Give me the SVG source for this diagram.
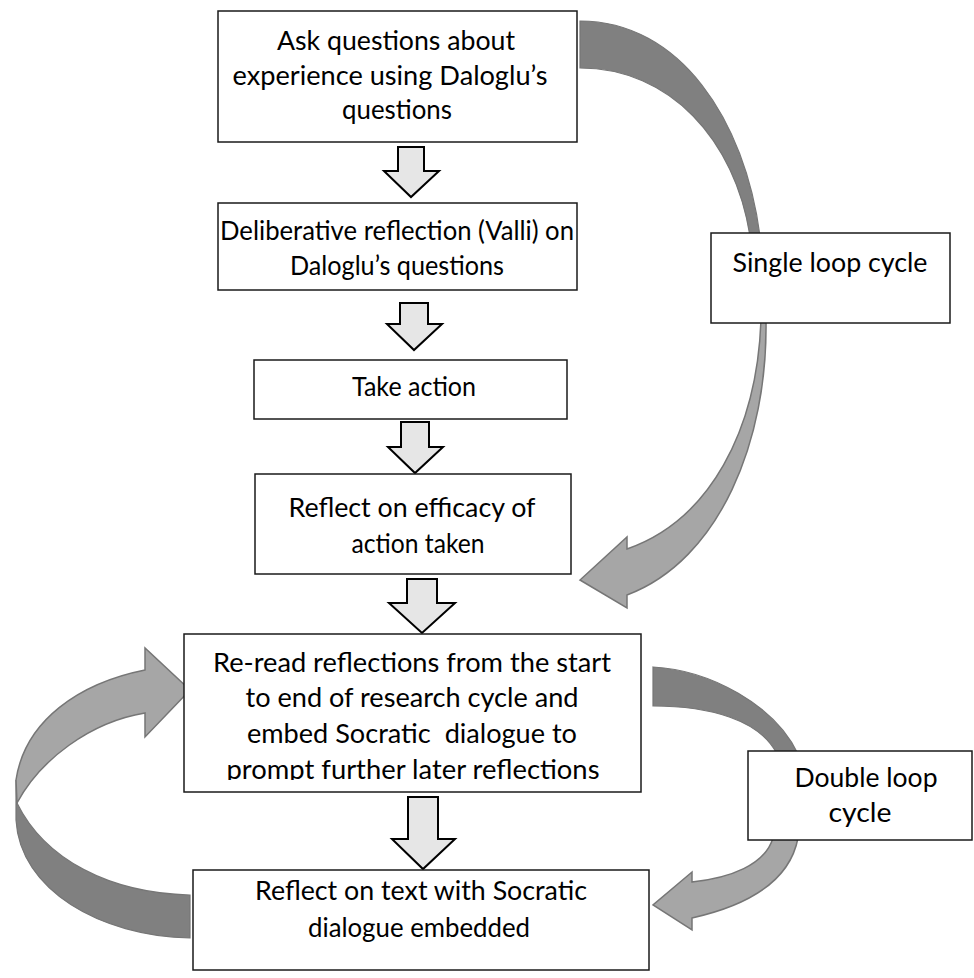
<svg xmlns="http://www.w3.org/2000/svg" width="974" height="978" viewBox="0 0 974 978">
<style>
  .box { fill: #ffffff; stroke: #1a1a1a; stroke-width: 1.5; }
  .t { font-family: "Lato", "Open Sans", "Liberation Sans", sans-serif; font-size: 26.5px; fill: #000; text-anchor: middle; }
  .dn { fill: #e6e6e6; stroke: #000; stroke-width: 2; stroke-linejoin: miter; }
  .dark { fill: #808080; stroke: #767676; stroke-width: 1.2; }
  .light { fill: #a6a6a6; stroke: #767676; stroke-width: 1.5; }
</style>
<defs>
  <clipPath id="clip5"><rect x="184" y="634" width="457" height="146"/></clipPath>
</defs>

<g id="connectors">
  <!-- single loop -->
  <path class="dark" d="M580,21 C680,21 745,120 760,236 L750,236 C735,140 670,68 580,68 Z"/>
  <path class="light" d="M761,320 C757,430 710,520 627,549 L627,537 L580,580 L627,608 L627,595 C720,560 768,440 766,320 Z"/>
  <!-- double loop -->
  <path class="dark" d="M653,667 C710,670 775,705 798,754 L777,754 C760,720 710,706 653,706 Z"/>
  <path class="light" d="M773,838 C765,865 730,878 692,882 L692,872 L653,905 L692,930 L692,918 C750,905 790,880 798,838 Z"/>
  <!-- left loop -->
  <path class="dark" d="M16,780 L16,820 C20,890 100,936 190,938 L190,895 C110,893 45,860 17,803 Z"/>
  <path class="light" d="M145,670 C80,683 25,720 16,780 L17,803 C40,760 90,722 145,713 L145,737 L190,690 L145,648 Z"/>
  <!-- down arrows -->
  <polygon class="dn" points="398,147 424,147 424,171 439,171 411,197 384,171 398,171"/>
  <polygon class="dn" points="400,303 428,303 428,324 442,324 414,350 387,324 400,324"/>
  <polygon class="dn" points="401,422 429,422 429,447 443,447 415,473 388,447 401,447"/>
  <polygon class="dn" points="407,579 437,579 437,603 455,603 422,633 389,603 407,603"/>
  <polygon class="dn" points="408,797 438,797 438,839 455,839 423,869 392,839 408,839"/>
</g>

<g id="n1">
  <rect class="box" x="218" y="11" width="359" height="131"/>
  <text class="t" x="396" y="50" textLength="238" lengthAdjust="spacingAndGlyphs">Ask questions about</text>
  <text class="t" x="390" y="85" textLength="315" lengthAdjust="spacingAndGlyphs">experience using Daloglu’s</text>
  <text class="t" x="397" y="119" textLength="110" lengthAdjust="spacingAndGlyphs">questions</text>
</g>
<g id="n2">
  <rect class="box" x="218" y="203" width="359" height="87"/>
  <text class="t" x="397" y="240" textLength="354" lengthAdjust="spacingAndGlyphs">Deliberative reflection (Valli) on</text>
  <text class="t" x="397" y="275" textLength="214" lengthAdjust="spacingAndGlyphs">Daloglu’s questions</text>
</g>
<g id="n3">
  <rect class="box" x="254" y="360" width="313" height="59"/>
  <text class="t" x="414" y="396" textLength="124" lengthAdjust="spacingAndGlyphs">Take action</text>
</g>
<g id="n4">
  <rect class="box" x="255" y="474" width="316" height="100"/>
  <text class="t" x="412" y="517" textLength="247" lengthAdjust="spacingAndGlyphs">Reflect on efficacy of</text>
  <text class="t" x="418" y="553" textLength="133" lengthAdjust="spacingAndGlyphs">action taken</text>
</g>
<g id="n5">
  <rect class="box" x="184" y="634" width="457" height="158"/>
  <g clip-path="url(#clip5)">
    <text class="t" x="412" y="672" textLength="398" lengthAdjust="spacingAndGlyphs">Re-read reflections from the start</text>
    <text class="t" x="412" y="707" textLength="333" lengthAdjust="spacingAndGlyphs">to end of research cycle and</text>
    <text class="t" x="412" y="743" textLength="330" lengthAdjust="spacingAndGlyphs" xml:space="preserve">embed Socratic  dialogue to</text>
    <text class="t" x="413" y="779" textLength="373" lengthAdjust="spacingAndGlyphs">prompt further later reflections</text>
  </g>
</g>
<g id="n6">
  <rect class="box" x="193" y="870" width="456" height="100"/>
  <text class="t" x="421" y="900" textLength="332" lengthAdjust="spacingAndGlyphs">Reflect on text with Socratic</text>
  <text class="t" x="419" y="937" textLength="222" lengthAdjust="spacingAndGlyphs">dialogue embedded</text>
</g>
<g id="n7">
  <rect class="box" x="711" y="233" width="239" height="90"/>
  <text class="t" x="830" y="272" textLength="195" lengthAdjust="spacingAndGlyphs">Single loop cycle</text>
</g>
<g id="n8">
  <rect class="box" x="748" y="751" width="224" height="89"/>
  <text class="t" x="866" y="787" textLength="143" lengthAdjust="spacingAndGlyphs">Double loop</text>
  <text class="t" x="860" y="822" textLength="63" lengthAdjust="spacingAndGlyphs">cycle</text>
</g>
</svg>
